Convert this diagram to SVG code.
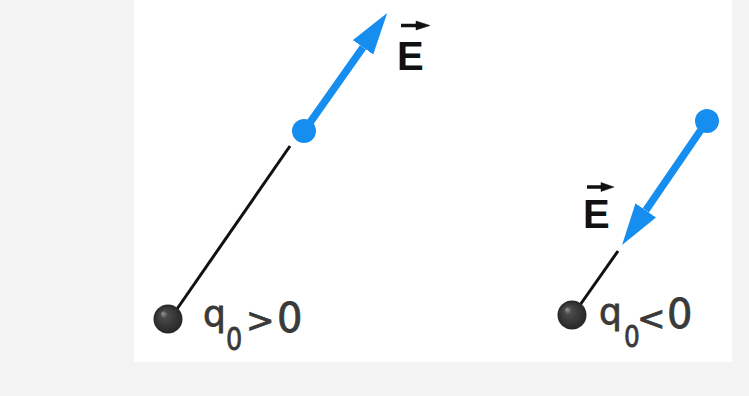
<svg xmlns="http://www.w3.org/2000/svg" width="749" height="396" viewBox="0 0 749 396">
  <defs>
    <marker id="bluehead" markerUnits="userSpaceOnUse" markerWidth="44" markerHeight="26" refX="0" refY="12.5" orient="auto">
      <path d="M0,0 L42,12.5 L0,25 Z" fill="#168ef0"/>
    </marker>
    <radialGradient id="ball" cx="0.5" cy="0.5" r="0.5" fx="0.32" fy="0.3">
      <stop offset="0" stop-color="#9a9a9a"/>
      <stop offset="0.25" stop-color="#4a4a4a"/>
      <stop offset="1" stop-color="#262626"/>
    </radialGradient>
    <style>
      .field { stroke: #168ef0; stroke-width: 7.5; fill: none; }
      .dot { fill: #168ef0; }
      .wire { stroke: #111; stroke-width: 3; }
      .charge { fill: url(#ball); }
      .E { font-family: "Liberation Sans", Arial, sans-serif; font-weight: bold; font-size: 40px; fill: #111; }
      .vec { fill: #111; stroke: #111; }
      .q { font-family: "DejaVu Sans", sans-serif; fill: #3a3a3a; stroke: #3a3a3a; stroke-width: 0.8; }
    </style>
  </defs>
  <rect x="0" y="0" width="749" height="396" fill="#f3f3f3"/>
  <rect x="134" y="0" width="598" height="362" fill="#ffffff"/>

  <g id="connectors">
    <line class="wire" x1="290" y1="146" x2="177" y2="309"/>
    <line class="field" x1="304" y1="131" x2="363" y2="47.3" marker-end="url(#bluehead)"/>
    <line class="wire" x1="618" y1="251" x2="580" y2="305"/>
    <line class="field" x1="707" y1="121" x2="645.8" y2="210.4" marker-end="url(#bluehead)"/>
  </g>

  <g id="positive-charge">
    <circle class="charge" cx="168" cy="319" r="14.5"/>
    <text class="q" x="203" y="326" font-size="36">q</text>
    <text class="q" transform="translate(226,350) scale(0.8,1)" font-size="32">0</text>
    <text class="q" x="246" y="332" font-size="34">&gt;</text>
    <text class="q" x="277" y="332" font-size="40">0</text>
  </g>
  <g id="positive-field">
    <circle class="dot" cx="304" cy="131" r="12"/>
    <g id="E-left">
      <path class="vec" d="M401,25.5 L418,25.5" stroke-width="3.5"/>
      <path class="vec" d="M416,21 L430,25.5 L416,30 Z" stroke-width="0.5"/>
      <text class="E" x="397" y="70">E</text>
    </g>
  </g>

  <g id="negative-charge">
    <circle class="charge" cx="572" cy="315" r="14.5"/>
    <text class="q" x="599" y="324" font-size="36">q</text>
    <text class="q" transform="translate(624,347) scale(0.8,1)" font-size="31">0</text>
    <text class="q" x="637" y="330" font-size="34">&lt;</text>
    <text class="q" x="667" y="328" font-size="40">0</text>
  </g>
  <g id="negative-field">
    <circle class="dot" cx="707" cy="121" r="12"/>
    <g id="E-right">
      <path class="vec" d="M587,187 L603,187" stroke-width="3.5"/>
      <path class="vec" d="M601,182.5 L614,187 L601,191.5 Z" stroke-width="0.5"/>
      <text class="E" x="583" y="228">E</text>
    </g>
  </g>
</svg>
